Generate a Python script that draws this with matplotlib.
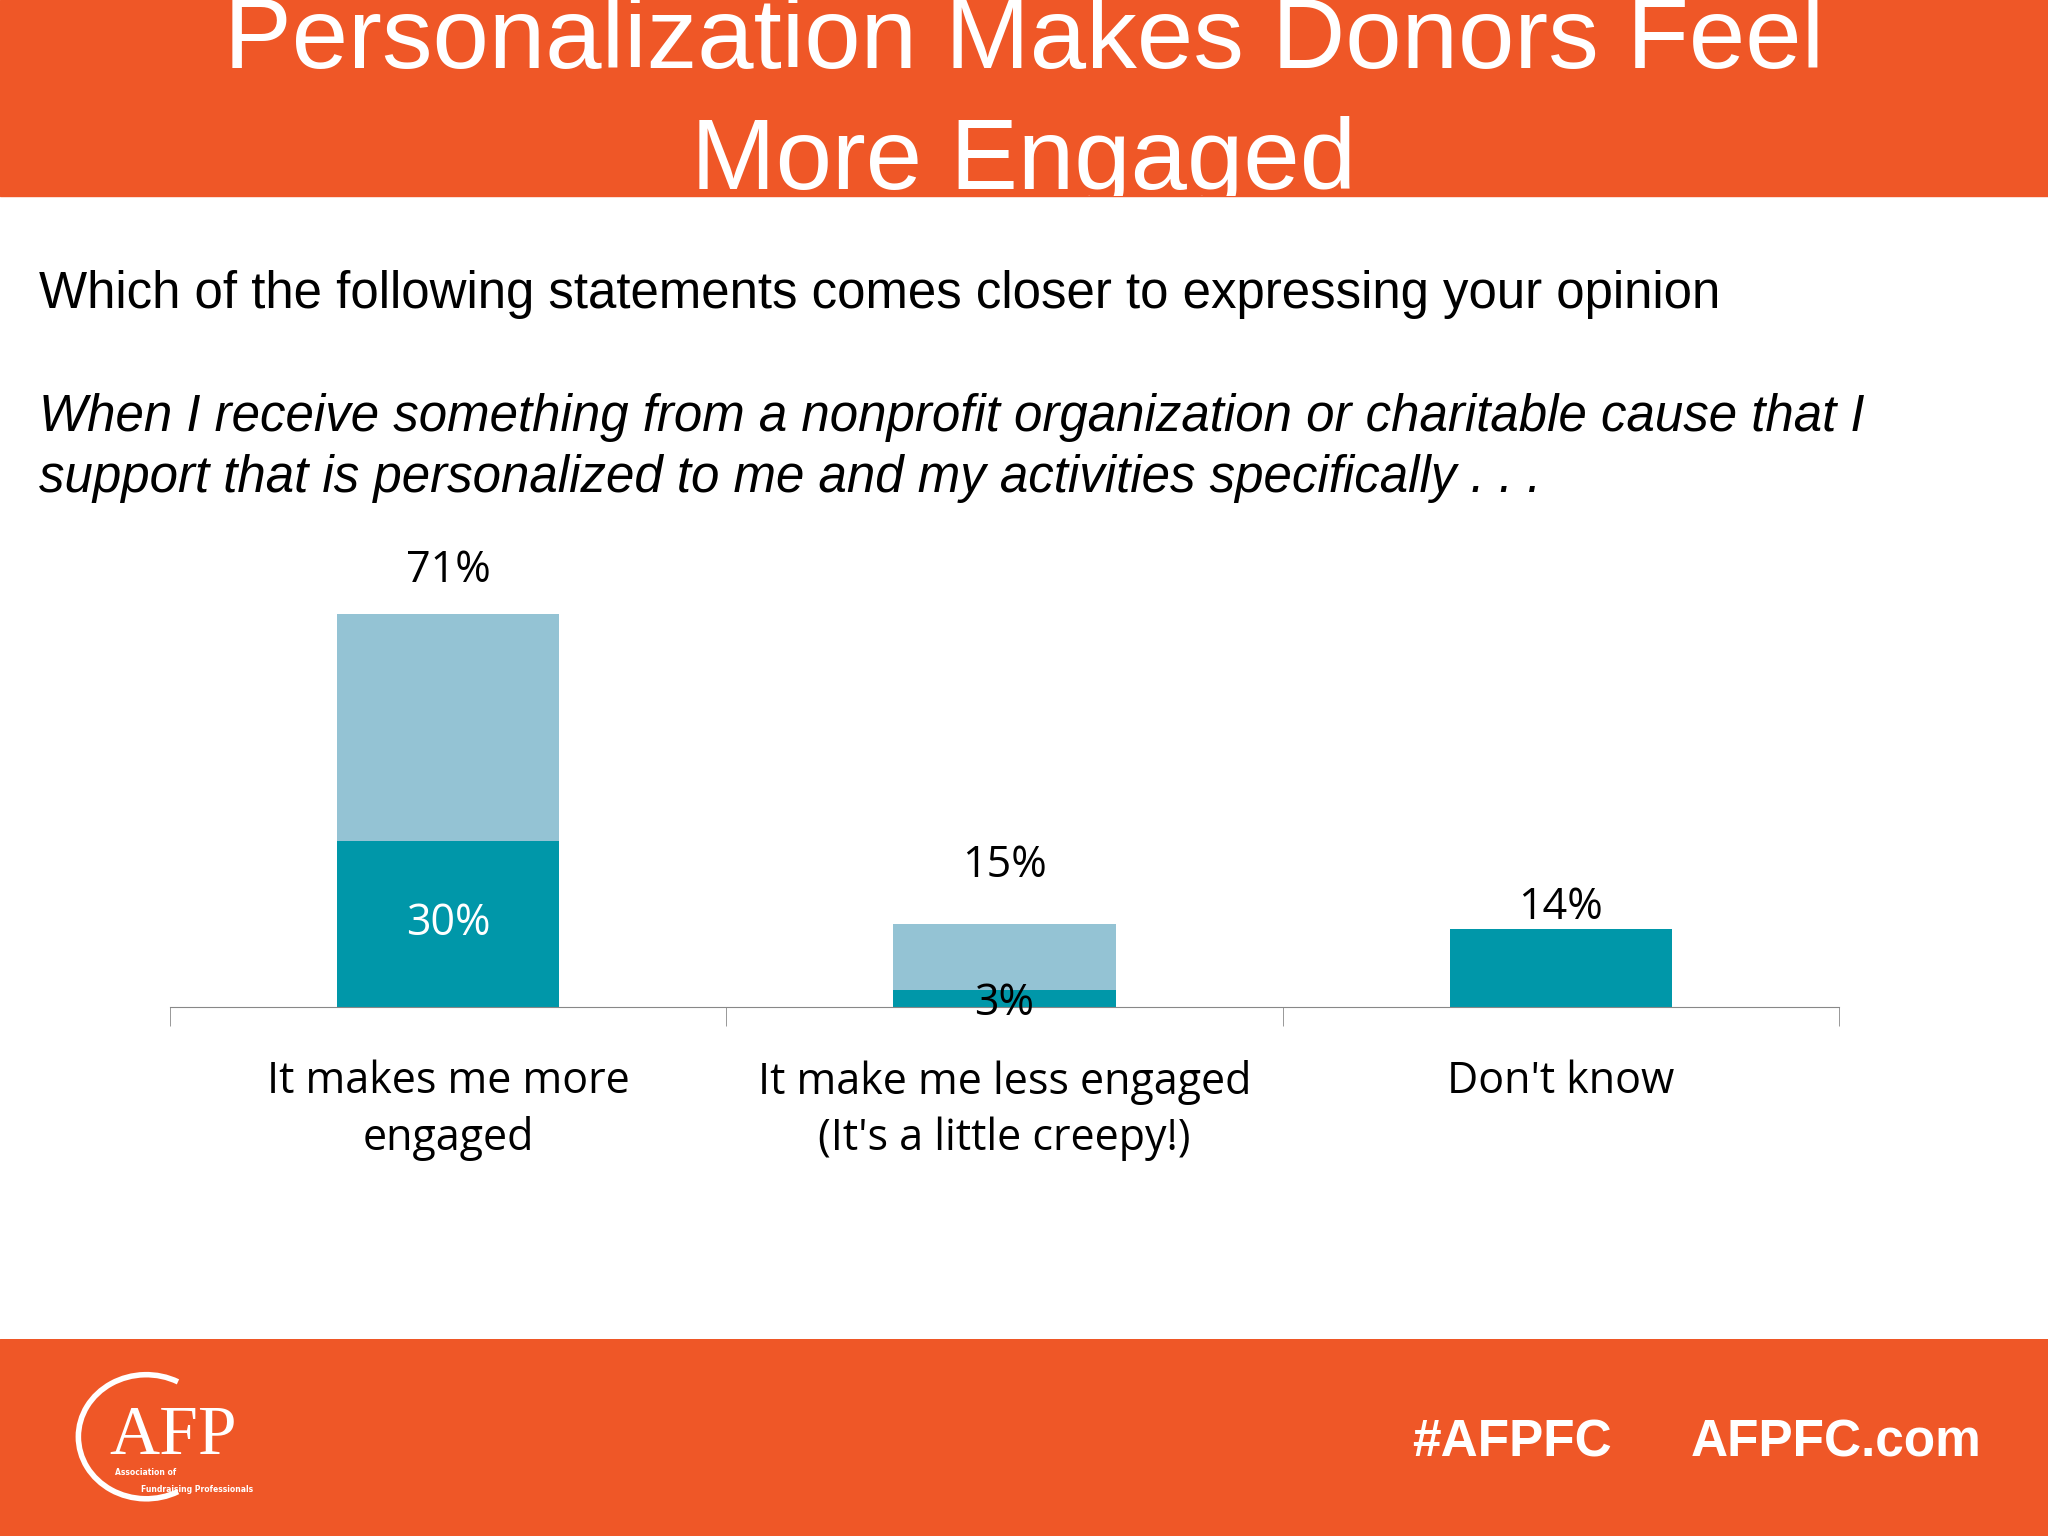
import matplotlib.pyplot as plt
from matplotlib.patches import Arc

categories = ["It makes me more\nengaged", "It make me less engaged\n(It's a little creepy!)", "Don't know"]
totals = [71, 15, 14]
strong = [30, 3, 14]
total_labels = ["71%", "15%", "14%"]
strong_labels = ["30%", "3%", ""]

orange = '#EF5727'
light = '#94C3D4'
teal = '#0097A9'
W, H = 1568, 1176

fig = plt.figure(figsize=(20.48, 15.36), dpi=100)

# header band with clipped title
hd = fig.add_axes([0, 1 - 150 / H, 1, 150 / H])
hd.set_xlim(0, W); hd.set_ylim(150, 0); hd.axis('off')
hd.add_patch(plt.Rectangle((0, 0), W, 150, color=orange, clip_on=False))
hd.text(784, 52, "Personalization Makes Donors Feel", ha='center', va='baseline',
        fontsize=73, color='white', family='Liberation Sans', clip_on=True)
hd.text(784, 145, "More Engaged", ha='center', va='baseline',
        fontsize=73, color='white', family='Liberation Sans', clip_on=True)

# footer band
ft = fig.add_axes([0, 0, 1, (H - 1025) / H])
ft.set_xlim(0, W); ft.set_ylim(H, 1025); ft.axis('off')
ft.add_patch(plt.Rectangle((0, 1025), W, 151, color=orange))
ft.add_patch(Arc((112, 1100), 104, 95, theta1=60, theta2=300, color='white', lw=4))
ft.text(84, 1113, "AFP", color='white', fontsize=50, family='Liberation Serif', va='baseline')
ft.text(88, 1129, "Association of", color='white', fontsize=5.5, fontweight='bold', va='baseline')
ft.text(108, 1142, "Fundraising Professionals", color='white', fontsize=5.5, fontweight='bold', va='baseline')
ft.text(1234, 1115, "#AFPFC", color='white', fontsize=37, fontweight='bold', ha='right', va='baseline',
        family='Liberation Sans')
ft.text(1517, 1115, "AFPFC.com", color='white', fontsize=37, fontweight='bold', ha='right', va='baseline',
        family='Liberation Sans')

# question text
fig.text(30 / W, 1 - 236 / H, "Which of the following statements comes closer to expressing your opinion",
         fontsize=36.7, family='Liberation Sans', va='baseline')
fig.text(30 / W, 1 - 330 / H, "When I receive something from a nonprofit organization or charitable cause that I",
         fontsize=36.7, family='Liberation Sans', style='italic', va='baseline')
fig.text(30 / W, 1 - 377 / H, "support that is personalized to me and my activities specifically . . .",
         fontsize=36.7, family='Liberation Sans', style='italic', va='baseline')

# chart
ax = fig.add_axes([130 / W, 1 - 771 / H, (1408 - 130) / W, 371 / H])
x = range(len(categories))
ax.bar(x, totals, width=0.4, color=light)
ax.bar(x, strong, width=0.4, color=teal)
ax.set_xlim(-0.5, 2.5)
ax.set_ylim(0, 87.5)
for i in x:
    off = 7.7 if i == 0 else (10.5 if i == 1 else 4)
    ax.text(i, totals[i] + off, total_labels[i], ha='center', va='center', fontsize=31, family='Open Sans')
ax.text(0, strong[0] / 2, strong_labels[0], ha='center', va='center', fontsize=31, color='white', family='Open Sans')
ax.text(1, 0.6, strong_labels[1], ha='center', va='center', fontsize=31, family='Open Sans')
for s in ['top', 'left', 'right']:
    ax.spines[s].set_visible(False)
ax.spines['bottom'].set_color('#888888')
ax.set_yticks([])
ax.set_xticks([-0.5, 0.5, 1.5, 2.5], minor=True)
ax.tick_params(axis='x', which='minor', length=14, color='#888888', direction='out')
ax.set_xticks(list(x))
ax.set_xticklabels(categories, fontsize=31, family='Open Sans', linespacing=1.35)
ax.tick_params(axis='x', which='major', length=0, pad=38)

fig.savefig('out.png')
